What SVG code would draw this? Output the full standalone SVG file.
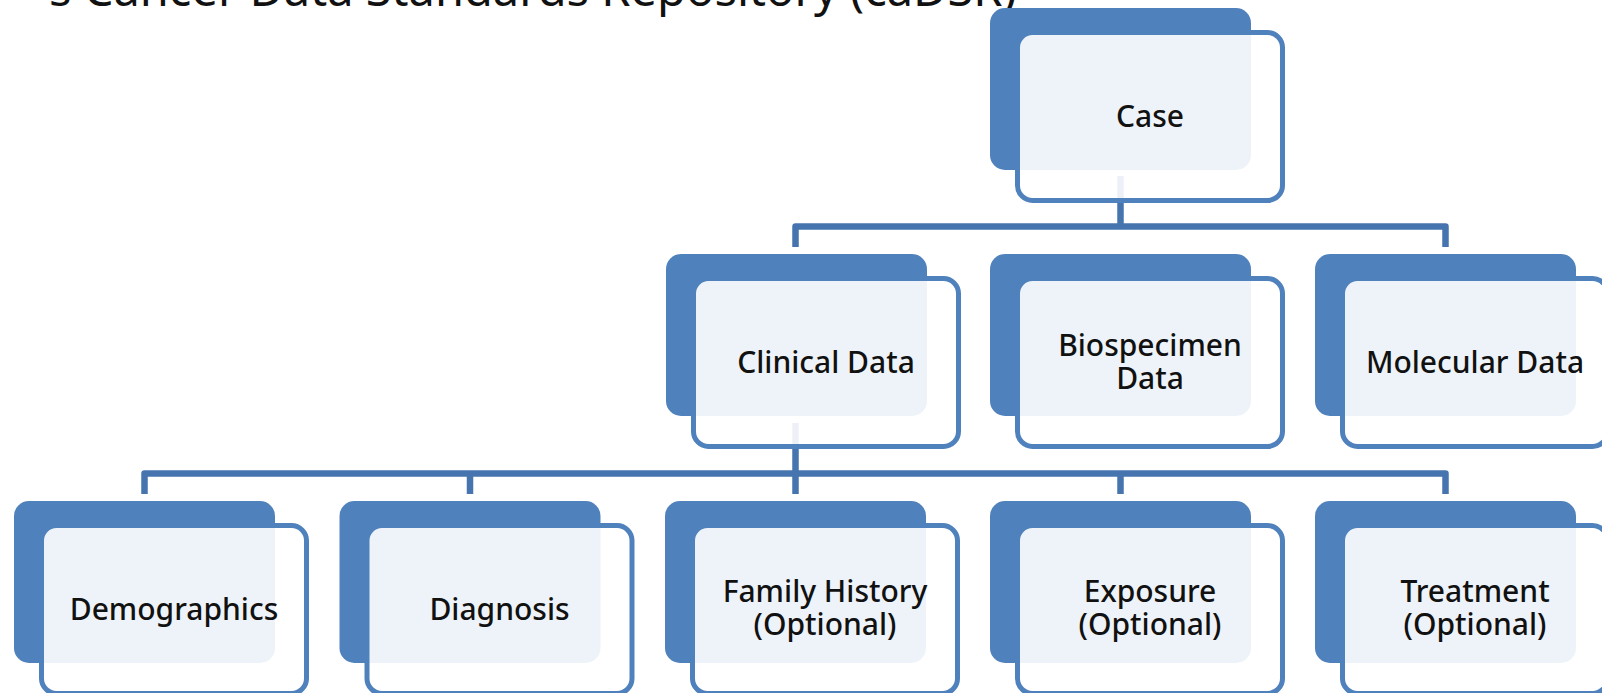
<svg xmlns="http://www.w3.org/2000/svg" width="1602" height="693" viewBox="0 0 1602 693">
<style>
.back{fill:#4F81BD;}
.front{fill:#FFFFFF;fill-opacity:0.9;stroke:#4F81BD;stroke-width:5;}
.lbl{font-family:"Noto Sans","Open Sans","DejaVu Sans",sans-serif;font-size:30px;font-weight:500;fill:#111111;text-anchor:middle;}
.title{font-family:"Noto Sans","Open Sans","DejaVu Sans",sans-serif;font-size:47px;fill:#111111;}
.conn{fill:none;stroke:#4674AE;stroke-width:6.5;stroke-linejoin:round;}
</style>
<rect width="1602" height="693" fill="#FFFFFF"/>
<text class="title" x="49" y="6">s Cancer Data Standards Repository (caDSR)</text>
<g id="connectors">
<path class="conn" d="M1120.5,176 V226.5 M795.5,247 V226.5 H1445.5 V247"/>
<path class="conn" d="M795.5,423 V473.5 M144.5,494 V473.5 H1445.5 V494 M470,473.5 V494 M795.5,473.5 V494 M1120.5,473.5 V494"/>
</g>
<g id="case">
<rect class="back" x="990" y="8" width="261" height="162" rx="15"/>
<rect class="front" x="1017.5" y="32.5" width="265" height="168" rx="15"/>
<text class="lbl" x="1150" y="127">Case</text>
</g>
<g id="clinical">
<rect class="back" x="666" y="254" width="261" height="162" rx="15"/>
<rect class="front" x="693.5" y="278.5" width="265" height="168" rx="15"/>
<text class="lbl" x="826" y="373">Clinical Data</text>
</g>
<g id="biospecimen">
<rect class="back" x="990" y="254" width="261" height="162" rx="15"/>
<rect class="front" x="1017.5" y="278.5" width="265" height="168" rx="15"/>
<text class="lbl" x="1150" y="356">Biospecimen</text>
<text class="lbl" x="1150" y="389">Data</text>
</g>
<g id="molecular">
<rect class="back" x="1315" y="254" width="261" height="162" rx="15"/>
<rect class="front" x="1342.5" y="278.5" width="265" height="168" rx="15"/>
<text class="lbl" x="1475" y="373">Molecular Data</text>
</g>
<g id="demographics">
<rect class="back" x="14" y="501" width="261" height="162" rx="15"/>
<rect class="front" x="41.5" y="525.5" width="265" height="168" rx="15"/>
<text class="lbl" x="174" y="620">Demographics</text>
</g>
<g id="diagnosis">
<rect class="back" x="339.5" y="501" width="261" height="162" rx="15"/>
<rect class="front" x="367" y="525.5" width="265" height="168" rx="15"/>
<text class="lbl" x="499.5" y="620">Diagnosis</text>
</g>
<g id="family-history">
<rect class="back" x="665" y="501" width="261" height="162" rx="15"/>
<rect class="front" x="692.5" y="525.5" width="265" height="168" rx="15"/>
<text class="lbl" x="825" y="602">Family History</text>
<text class="lbl" x="825" y="635">(Optional)</text>
</g>
<g id="exposure">
<rect class="back" x="990" y="501" width="261" height="162" rx="15"/>
<rect class="front" x="1017.5" y="525.5" width="265" height="168" rx="15"/>
<text class="lbl" x="1150" y="602">Exposure</text>
<text class="lbl" x="1150" y="635">(Optional)</text>
</g>
<g id="treatment">
<rect class="back" x="1315" y="501" width="261" height="162" rx="15"/>
<rect class="front" x="1342.5" y="525.5" width="265" height="168" rx="15"/>
<text class="lbl" x="1475" y="602">Treatment</text>
<text class="lbl" x="1475" y="635">(Optional)</text>
</g>
</svg>
